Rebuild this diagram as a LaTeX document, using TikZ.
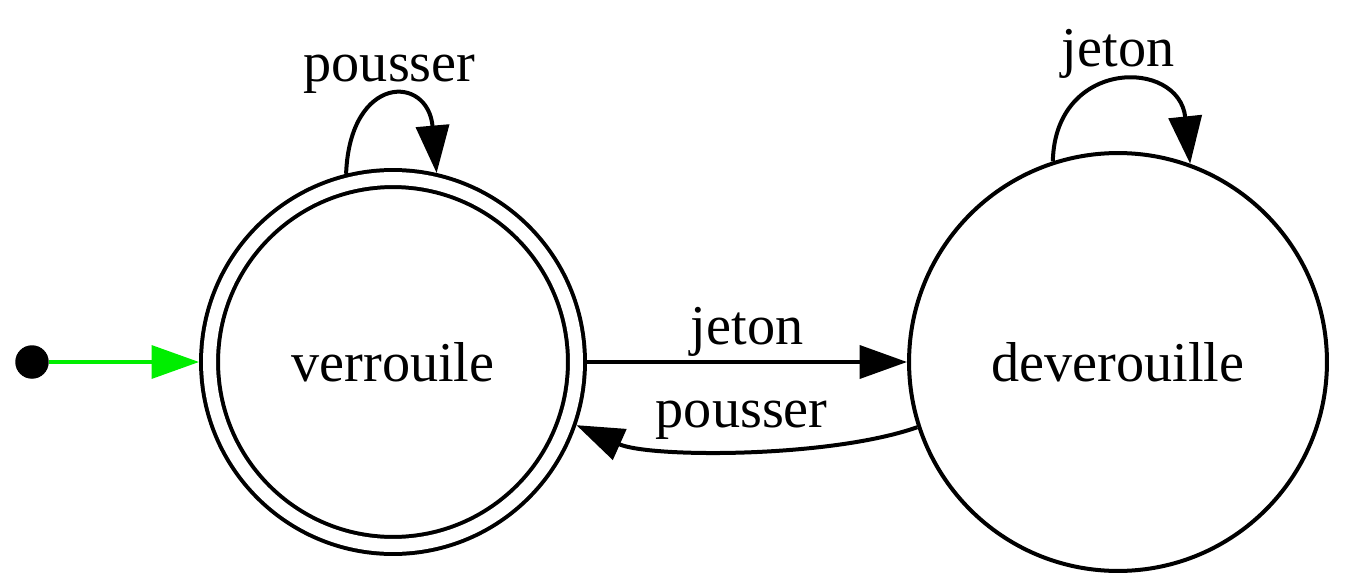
\documentclass[tikz,border=0pt]{standalone}
\usepackage{fontspec}
\setmainfont{Liberation Serif}
\usetikzlibrary{arrows.meta, positioning, calc}
\definecolor{startgreen}{HTML}{00EE00}
\tikzset{
  state/.style={
    circle, draw, line width=0.08cm, minimum size=#1, inner sep=0pt,
    font=\fontsize{32}{38}\selectfont
  },
  accepting/.style={
    double, double distance=0.26cm, outer sep=0.21cm
  },
  startdot/.style={
    circle, fill=black, minimum size=0.67cm, inner sep=0pt
  },
  transition/.style={
    -{Triangle[length=0.95cm, width=0.66cm]}, line width=0.08cm, color=#1
  },
  edgetext/.style={
    font=\fontsize{32}{38}\selectfont, inner sep=2pt
  }
}

\begin{document}
\begin{tikzpicture}[x=0.02cm, y=-0.02cm]

  \useasboundingbox (0,0) rectangle (1345,588);

  % States
  \node[state=7.34cm, accepting] (verr) at (393,362) {verrouile};
  \node[state=8.36cm] (dev) at (1118,362) {deverouille};
  \node[startdot] (start) at (32,362) {};

  % Initial arrow
  \draw[transition=startgreen, line width=0.07cm] (start) -- (verr);

  % Transitions
  \draw[transition=black] (verr) -- node[midway, above, edgetext] {jeton} (dev);
  \draw[transition=black] (dev.198) .. controls (830,458) and (650,458) .. node[midway, above, edgetext, yshift=3pt] {pousser} (verr.341);

  % Self loops
  \draw[transition=black] (verr.104) .. controls (350,74) and (428,74) .. node[midway, above, edgetext] {pousser} (verr.77);
  \draw[transition=black] (dev.108) .. controls (1055,58) and (1179,58) .. node[midway, above, edgetext] {jeton} (dev.70);

\end{tikzpicture}
\end{document}
